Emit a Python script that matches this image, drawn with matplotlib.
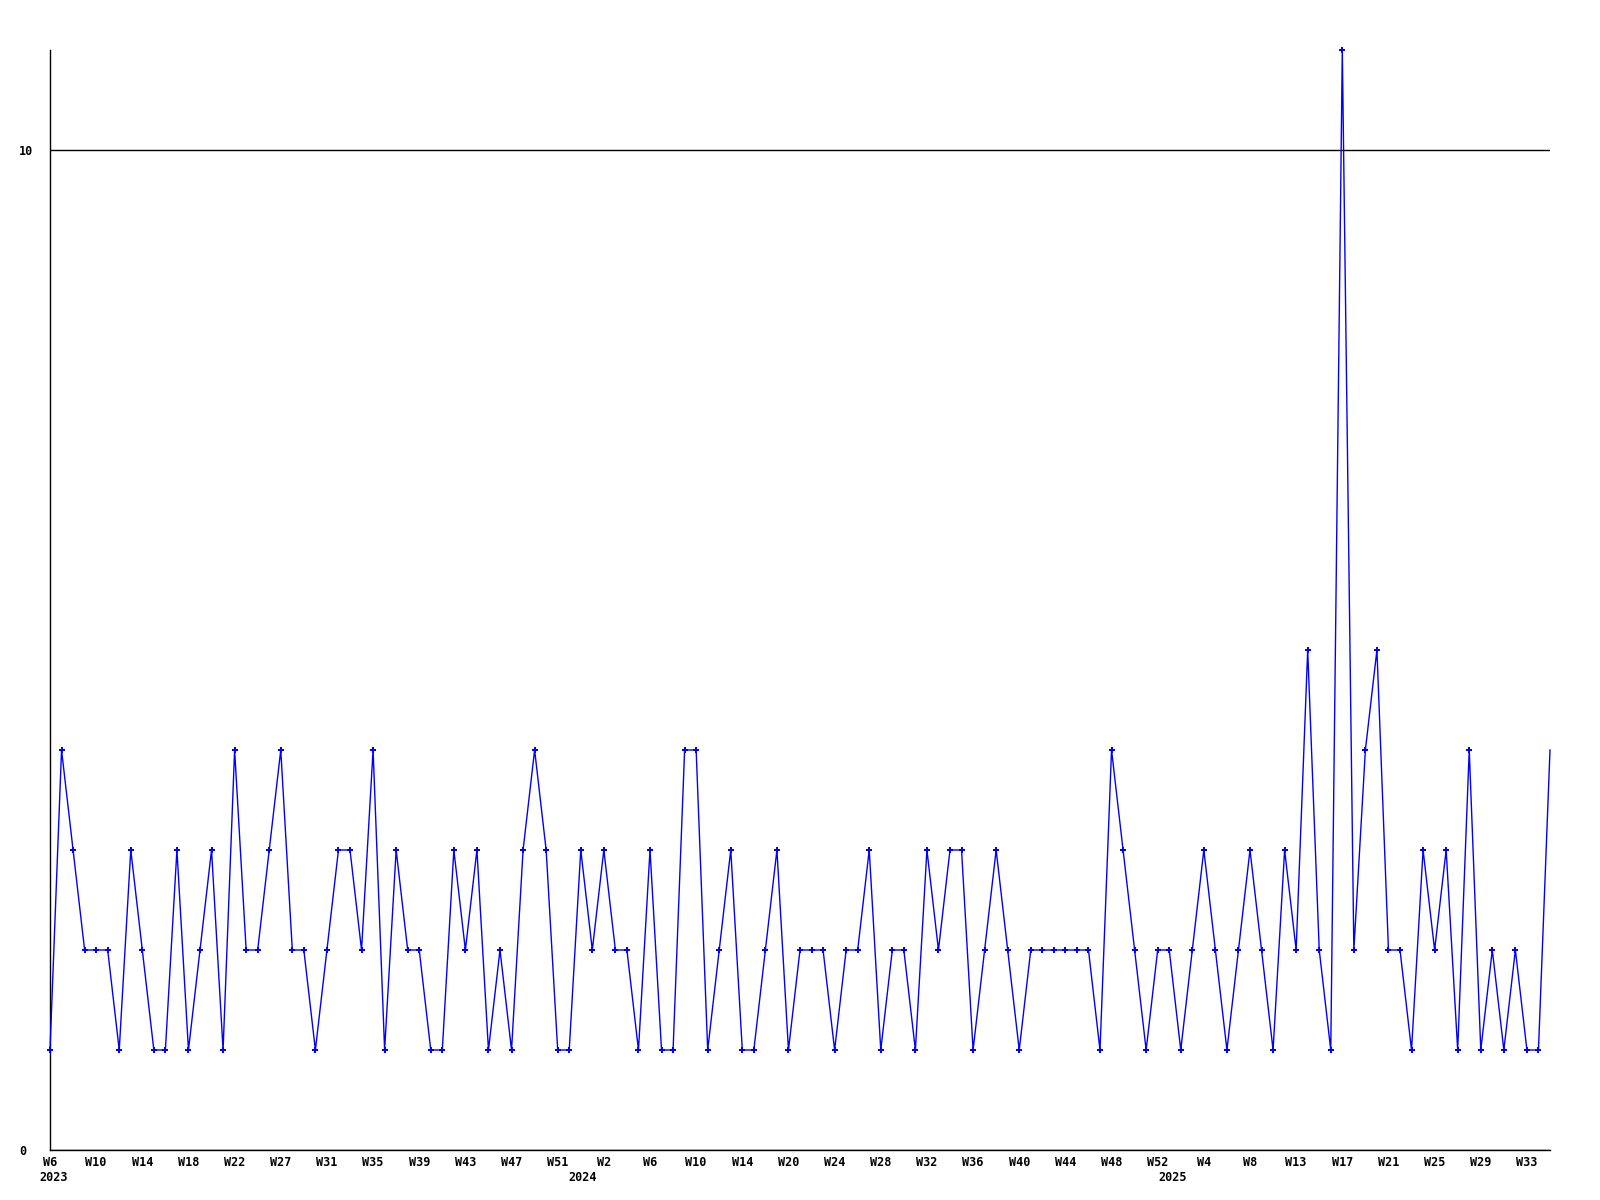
import matplotlib
matplotlib.use("Agg")
import matplotlib.pyplot as plt
from matplotlib.transforms import blended_transform_factory

# ---- data ----
values = [1, 4, 3, 2, 2, 2, 1, 3, 2, 1,
          1, 3, 1, 2, 3, 1, 4, 2, 2, 3,
          4, 2, 2, 1, 2, 3, 3, 2, 4, 1,
          3, 2, 2, 1, 1, 3, 2, 3, 1, 2,
          1, 3, 4, 3, 1, 1, 3, 2, 3, 2,
          2, 1, 3, 1, 1, 4, 4, 1, 2, 3,
          1, 1, 2, 3, 1, 2, 2, 2, 1, 2,
          2, 3, 1, 2, 2, 1, 3, 2, 3, 3,
          1, 2, 3, 2, 1, 2, 2, 2, 2, 2,
          2, 1, 4, 3, 2, 1, 2, 2, 1, 2,
          3, 2, 1, 2, 3, 2, 1, 3, 2, 5,
          2, 1, 11, 2, 4, 5, 2, 2, 1, 3,
          2, 3, 1, 4, 1, 2, 1, 2, 1, 1,
          4]
week_labels = ["W6", "W10", "W14", "W18", "W22", "W27", "W31", "W35", "W39",
               "W43", "W47", "W51", "W2", "W6", "W10", "W14", "W20", "W24",
               "W28", "W32", "W36", "W40", "W44", "W48", "W52", "W4", "W8",
               "W13", "W17", "W21", "W25", "W29", "W33"]
label_step = 4
year_labels = ["2023", "2024", "2025"]
year_pos = [0.3, 46.2, 97.3]
y_ticks = [0, 10]

# ---- figure ----
W, H = 1600, 1200
fig = plt.figure(figsize=(16, 12), dpi=100)
ax = fig.add_axes([50 / W, 50 / H, 1500 / W, 1100 / H])

font = dict(family="DejaVu Sans Mono", weight="bold", size=8.5)

x = list(range(len(values)))
ax.plot(x, values, color="#0000FF", lw=1.0, zorder=3, clip_on=False)
ax.plot(x[:-1], values[:-1], ls="none", color="#0000FF", marker="P",
        markersize=5, markeredgewidth=0, zorder=4, clip_on=False)

ax.set_xlim(0, len(values) - 1)
ax.set_ylim(0, 11)

for s in ("top", "right"):
    ax.spines[s].set_visible(False)
for s in ("left", "bottom"):
    ax.spines[s].set_linewidth(1.0)
    ax.spines[s].set_color("black")

ax.set_yticks(y_ticks)
ax.set_yticklabels([str(v) for v in y_ticks], fontdict=font)
ax.tick_params(axis="y", length=0, pad=22.3)
for lbl in ax.get_yticklabels():
    lbl.set_horizontalalignment("left")
ax.yaxis.grid(True, color="black", lw=1.0)
ax.set_axisbelow(True)

ax.set_xticks(list(range(0, label_step * len(week_labels), label_step)))
ax.set_xticklabels(week_labels, fontdict=font)
ax.tick_params(axis="x", length=0, pad=4)

trans = blended_transform_factory(ax.transData, ax.transAxes)
for lab, p in zip(year_labels, year_pos):
    ax.annotate(lab, xy=(p, 0), xycoords=trans, xytext=(0, -15),
                textcoords="offset points", ha="center", va="top", **font)

fig.savefig("out.png", dpi=100, facecolor="white")
